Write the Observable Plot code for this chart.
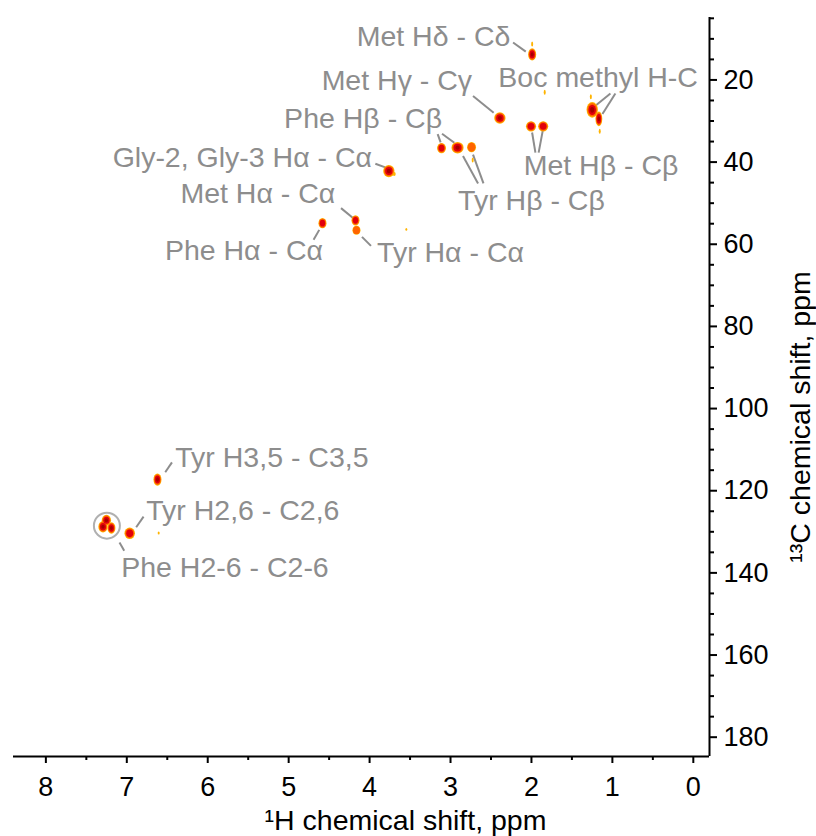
<!DOCTYPE html>
<html><head><meta charset="utf-8">
<script src="https://cdn.jsdelivr.net/npm/d3@7"></script>
<script src="https://cdn.jsdelivr.net/npm/@observablehq/plot@0.6"></script>
<style>body{margin:0;background:#fff} svg{overflow:visible}</style>
</head><body><div id="chart"></div>
<script>
// ---- axes ----
const xDomain = [8.4, -0.2];
const yDomain = [4.8, 184.7];
const xMajorTicks = [0, 1, 2, 3, 4, 5, 6, 7, 8];
const xMinorTicks = [0.5, 1.5, 2.5, 3.5, 4.5, 5.5, 6.5, 7.5];
const yMajorTicks = [20, 40, 60, 80, 100, 120, 140, 160, 180];
const yMinorTicks = [5, 10, 15, 25, 30, 35, 45, 50, 55, 65, 70, 75, 85, 90, 95, 105, 110, 115, 125, 130, 135, 145, 150, 155, 165, 170, 175];
const xTitle = "\u00B9H chemical shift, ppm";
const yTitle = "\u00B9\u00B3C chemical shift, ppm";

// ---- cross peaks (1H ppm, 13C ppm, linewidths in ppm, contour levels) ----
const peakH = [1.985, 2.384, 1.999, 1.849, 1.243, 1.161, 3.105, 2.907, 2.734, 3.756, 4.168, 4.156, 4.576, 6.615, 6.958, 7.246, 7.288, 7.184,
               1.985, 1.26, 1.15, 1.83, 2.72, 3.69, 3.54, 6.60];
const peakC = [13.9, 29.4, 31.4, 31.4, 27.4, 29.6, 36.7, 36.6, 36.5, 42.3, 54.3, 56.7, 55.0, 117.4, 130.5, 127.3, 128.9, 129.2,
               11.4, 24.2, 32.6, 23.1, 39.6, 43.0, 56.5, 130.4];
const peakWidthH = [0.10, 0.14, 0.125, 0.125, 0.14, 0.085, 0.11, 0.15, 0.11, 0.14, 0.10, 0.10, 0.10, 0.10, 0.13, 0.115, 0.115, 0.10,
                    0.025, 0.025, 0.025, 0.025, 0.025, 0.037, 0.025, 0.025];
const peakWidthC = [3.0, 2.8, 2.5, 2.5, 3.8, 3.6, 2.5, 2.8, 2.5, 3.0, 2.5, 2.2, 2.5, 3.0, 2.8, 2.6, 2.8, 2.8,
                    1.22, 1.22, 1.22, 1.22, 1.22, 0.97, 0.73, 0.73];
const peakLevel = [4, 4, 3, 3, 4, 4, 3, 4, 2, 4, 3, 2, 3, 4, 3, 4, 4, 4,
                   1, 1, 1, 1, 1, 1, 1, 1];

// ---- assignment labels ----
const labelText = ["Met H\u03B4 - C\u03B4", "Boc methyl H-C", "Met H\u03B3 - C\u03B3", "Phe H\u03B2 - C\u03B2", "Tyr H\u03B2 - C\u03B2",
  "Met H\u03B2 - C\u03B2", "Gly-2, Gly-3 H\u03B1 - C\u03B1", "Met H\u03B1 - C\u03B1", "Phe H\u03B1 - C\u03B1", "Tyr H\u03B1 - C\u03B1",
  "Tyr H3,5 - C3,5", "Tyr H2,6 - C2,6", "Phe H2-6 - C2-6"];
const labelH = [2.261, 2.409, 2.734, 3.105, 2.907, 2.096, 3.970, 4.424, 4.576, 3.908, 6.401, 6.760, 7.069];
const labelC = [9.5, 19.4, 20.2, 29.6, 49.4, 40.9, 38.9, 47.8, 61.6, 62.0, 111.9, 124.9, 138.7];
const labelSide = ["end", "start", "end", "end", "start", "start", "end", "end", "end", "start", "start", "start", "start"];

// ---- leader lines ----
const leaderH1 = [2.227, 1.024, 0.963, 2.722, 3.159, 3.105, 2.846, 2.722, 1.992, 1.861, 3.929, 4.353, 4.692, 4.094, 6.442, 6.793, 7.090];
const leaderC1 = [10.9, 23.3, 23.3, 23.9, 33.2, 33.1, 38.5, 38.2, 32.8, 32.4, 40.4, 51.2, 58.9, 58.2, 113.1, 126.3, 132.6];
const leaderH2 = [2.070, 1.210, 1.123, 2.467, 3.122, 2.953, 2.660, 2.593, 1.951, 1.911, 3.806, 4.205, 4.622, 3.983, 6.525, 6.884, 7.032];
const leaderC2 = [13.1, 26.3, 28.3, 28.0, 35.2, 35.3, 45.2, 45.2, 37.7, 37.7, 41.3, 53.6, 56.5, 60.4, 115.5, 128.9, 134.6];

// ---- highlighted cluster ----
const circleH = [7.246];
const circleC = [128.5];

const peaks = peakH.map((h, i) => ({h, c: peakC[i], wh: peakWidthH[i], wc: peakWidthC[i], level: peakLevel[i]}));
const labels = labelText.map((t, i) => ({t, h: labelH[i], c: labelC[i], side: labelSide[i]}));
const leaders = leaderH1.map((h, i) => ({h1: h, c1: leaderC1[i], h2: leaderH2[i], c2: leaderC2[i]}));
const circles = circleH.map((h, i) => ({h, c: circleC[i]}));

const FONT = "'Liberation Sans', Arial, Helvetica, sans-serif";
const GRAY = "#8d8d8d";
const layerScale = [1, 0.86, 0.66, 0.36];
const layerColor = ["#ffb400", "#ff6400", "#e1000c", "#a80000"];

const peakLayers = layerScale.map((s, k) => Plot.rect(peaks.filter(p => p.level > k), {
  x1: p => p.h - p.wh / 2 * s, x2: p => p.h + p.wh / 2 * s,
  y1: p => p.c - p.wc / 2 * s, y2: p => p.c + p.wc / 2 * s,
  fill: layerColor[k], rx: 100, ry: 100
}));

const chart = Plot.plot({
  width: 816, height: 836,
  marginTop: 17, marginBottom: 80, marginLeft: 13, marginRight: 107,
  style: {fontFamily: FONT, fontSize: "27px", background: "#fff", overflow: "visible"},
  x: {domain: xDomain},
  y: {domain: yDomain, reverse: true},
  marks: [
    Plot.link(leaders, {x1: "h1", y1: "c1", x2: "h2", y2: "c2", stroke: GRAY, strokeWidth: 2}),
    ...peakLayers,
    Plot.dot(circles, {x: "h", y: "c", r: 13, stroke: "#b0b0b0", strokeWidth: 2, fill: "none"}),
    Plot.text(labels.filter(d => d.side === "end"), {x: "h", y: "c", text: "t", textAnchor: "end", fill: GRAY, fontSize: 28.5, fontFamily: FONT}),
    Plot.text(labels.filter(d => d.side === "start"), {x: "h", y: "c", text: "t", textAnchor: "start", fill: GRAY, fontSize: 28.5, fontFamily: FONT}),
    // axis lines
    Plot.ruleY([yDomain[1]], {stroke: "#000", strokeWidth: 2}),
    Plot.ruleX([xDomain[1]], {stroke: "#000", strokeWidth: 2}),
    // ticks
    Plot.axisX({ticks: xMajorTicks, anchor: "bottom", tickSize: 7, tickPadding: 13, strokeWidth: 2, stroke: "#000", fill: "#000", fontSize: 27, label: null, tickFormat: d => String(d)}),
    Plot.axisX({ticks: xMinorTicks, anchor: "bottom", tickSize: 4, strokeWidth: 2, stroke: "#000", tickFormat: () => "", label: null}),
    Plot.axisY({ticks: yMajorTicks, anchor: "right", tickSize: 7, tickPadding: 7, strokeWidth: 2, stroke: "#000", fill: "#000", fontSize: 27, label: null, tickFormat: d => String(d)}),
    Plot.axisY({ticks: yMinorTicks, anchor: "right", tickSize: 4, strokeWidth: 2, stroke: "#000", tickFormat: () => "", label: null}),
    // axis titles
    Plot.text([xTitle], {frameAnchor: "bottom", text: d => d, dx: 44, dy: 64, textAnchor: "middle", lineAnchor: "middle", fill: "#000", fontSize: 28.5, fontFamily: FONT}),
    Plot.text([yTitle], {frameAnchor: "right", text: d => d, rotate: -90, dx: 91, dy: 30, textAnchor: "middle", lineAnchor: "middle", fill: "#000", fontSize: 28.5, fontFamily: FONT})
  ]
});
document.getElementById("chart").appendChild(chart);
</script></body></html>
